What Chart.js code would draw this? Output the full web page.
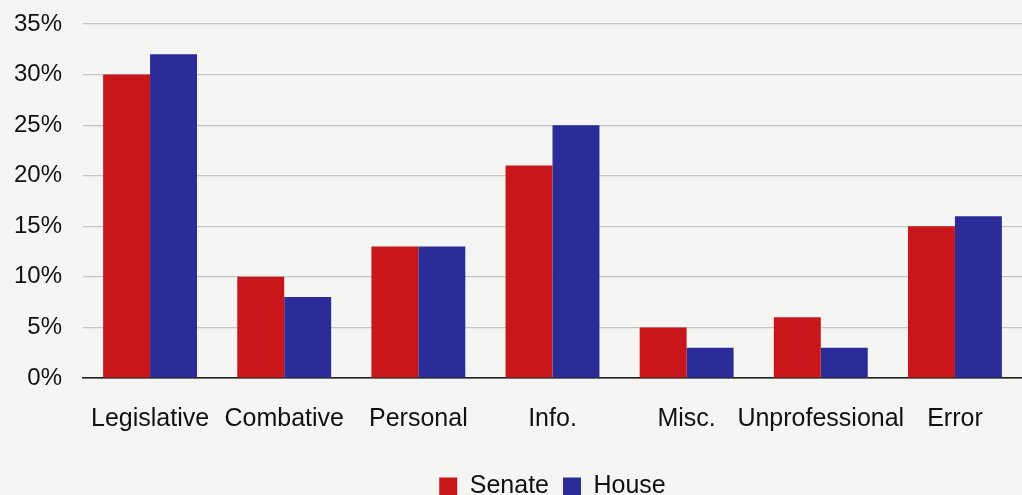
<!DOCTYPE html>
<html>
<head>
<meta charset="utf-8">
<script src="https://cdn.jsdelivr.net/npm/chart.js@4/dist/chart.umd.min.js"></script>
<style>
  html, body { margin: 0; padding: 0; background: #f5f5f3; }
  #wrap { width: 1022px; height: 495px; }
</style>
</head>
<body>
<div id="wrap"><canvas id="leChart"></canvas></div>
<script>
// catégories et pourcentages par chambre
const categories = ['Legislative', 'Combative', 'Personal', 'Info.', 'Misc.', 'Unprofessional', 'Error'];
const senate = [30, 10, 13, 21, 5, 6, 15];
const house = [32, 8, 13, 25, 3, 3, 16];
const yTicks = [0, 5, 10, 15, 20, 25, 30, 35];

const fond = {
    id: 'fond',
    beforeDraw(chart) {
        const ctx = chart.ctx;
        ctx.save();
        ctx.fillStyle = '#f5f5f3';
        ctx.fillRect(0, 0, chart.width, chart.height);
        ctx.restore();
    }
};

const ctx = document.getElementById('leChart').getContext('2d');
new Chart(ctx, {
    type: 'bar',
    data: {
        labels: categories,
        datasets: [{
            label: 'Senate',
            data: senate,
            backgroundColor: '#c8161b',
            barPercentage: 1.0,
            categoryPercentage: 0.7
        }, {
            label: 'House',
            data: house,
            backgroundColor: '#2b2c98',
            barPercentage: 1.0,
            categoryPercentage: 0.7
        }]
    },
    options: {
        responsive: true,
        maintainAspectRatio: false,
        animation: false,
        layout: { padding: 0 },
        plugins: {
            legend: {
                position: 'bottom',
                // légende centrée sous la zone des barres
                fullSize: false,
                maxHeight: 35,
                labels: {
                    color: '#111',
                    font: { family: 'Liberation Sans', size: 25 },
                    boxWidth: 18,
                    boxHeight: 18,
                    padding: 14
                }
            },
            tooltip: { enabled: false }
        },
        scales: {
            x: {
                grid: { display: false, drawTicks: false },
                border: { color: '#222', width: 1.5 },
                afterFit(axis) { axis.height = 82; },
                ticks: {
                    color: '#111',
                    font: { family: 'Liberation Sans', size: 25 },
                    padding: 26,
                    maxRotation: 0,
                    autoSkip: false
                }
            },
            y: {
                min: 0,
                max: 35,
                afterBuildTicks(axis) {
                    axis.ticks = yTicks.map(v => ({ value: v }));
                },
                afterFit(axis) {
                    axis.width = 83;
                    // haut de la zone du graphique
                    axis.paddingTop = 24;
                    axis.paddingBottom = 0;
                },
                grid: {
                    drawTicks: false,
                    color: ctx => ctx.tick.value === 0 ? '#222' : '#c4c4c4',
                    lineWidth: 1.2
                },
                border: { display: false },
                ticks: {
                    color: '#111',
                    font: { family: 'Liberation Sans', size: 24 },
                    padding: 21,
                    callback: v => v + '%'
                }
            }
        }
    },
    plugins: [fond]
});
</script>
</body>
</html>
